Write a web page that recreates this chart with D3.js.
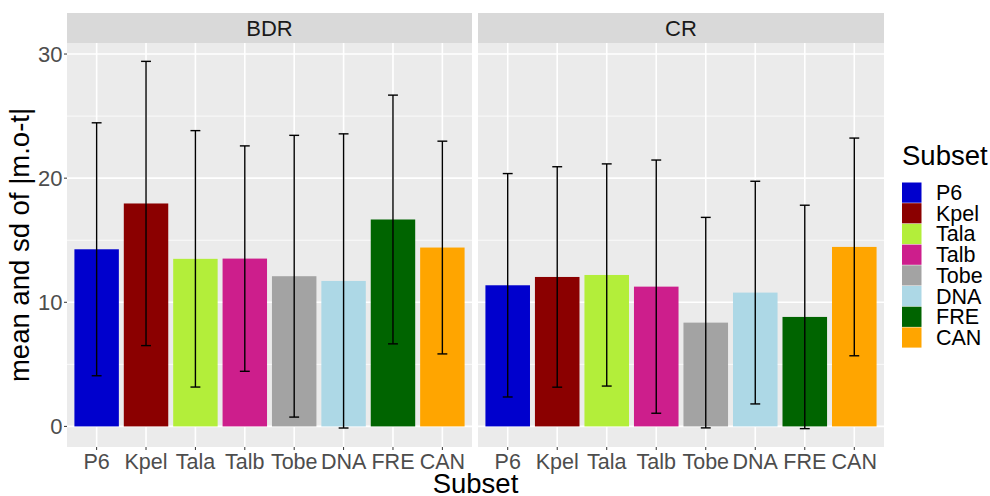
<!DOCTYPE html>
<html>
<head>
<meta charset="utf-8">
<script src="https://cdn.jsdelivr.net/npm/d3@7"></script>
<style>
  body { margin: 0; background: #fff; }
  text { font-family: "Liberation Sans", Arial, sans-serif; }
</style>
</head>
<body>
<svg id="chart" width="990" height="496"></svg>
<script>
// Data
const categories = ["P6", "Kpel", "Tala", "Talb", "Tobe", "DNA", "FRE", "CAN"];
const facets = ["BDR", "CR"];
const bdrMean = [14.27, 17.96, 13.5, 13.52, 12.1, 11.72, 16.67, 14.41];
const bdrSd = [10.19, 11.45, 10.33, 9.08, 11.35, 11.85, 10.02, 8.57];
const crMean = [11.37, 12.04, 12.2, 11.26, 8.36, 10.78, 8.82, 14.46];
const crSd = [9.0, 8.88, 8.95, 10.2, 8.48, 8.97, 9.0, 8.77];
const yTicks = [0, 10, 20, 30];
const yMinor = [5, 15, 25];
const colors = ["#0000CD", "#8B0000", "#B3EE3A", "#CD1E8C", "#A3A3A3", "#ADD8E6", "#006400", "#FFA500"];

const facetData = {
    BDR: categories.map((c, i) => ({cat: c, mean: bdrMean[i], sd: bdrSd[i]})),
    CR: categories.map((c, i) => ({cat: c, mean: crMean[i], sd: crSd[i]}))
};

const svg = d3.select("#chart");
const color = d3.scaleOrdinal().domain(categories).range(colors);

// Panel geometry
const panelTop = 43, panelBottom = 447, stripTop = 13;
const panels = [{name: "BDR", x0: 67, x1: 472}, {name: "CR", x0: 478, x1: 884}];

// y scale with ggplot-like 5% expansion
const all = facetData.BDR.concat(facetData.CR);
const lo = d3.min(all, d => d.mean - d.sd), hi = d3.max(all, d => d.mean + d.sd);
const pad = (hi - lo) * 0.05;
const y = d3.scaleLinear().domain([lo - pad, hi + pad]).range([panelBottom, panelTop]);

panels.forEach((p, pi) => {
    const x = d3.scaleBand().domain(categories).range([p.x0, p.x1])
                .paddingInner(0.1).paddingOuter(0.15);
    const cx = c => x(c) + x.bandwidth() / 2;
    const step = x.step();
    const g = svg.append("g");

    // strip
    g.append("rect").attr("x", p.x0).attr("y", stripTop)
     .attr("width", p.x1 - p.x0).attr("height", panelTop - stripTop)
     .attr("fill", "#d9d9d9");
    g.append("text").attr("x", (p.x0 + p.x1) / 2).attr("y", 36)
     .attr("text-anchor", "middle").attr("font-size", 22).attr("fill", "#1a1a1a")
     .text(facets[pi]);

    // panel background
    g.append("rect").attr("x", p.x0).attr("y", panelTop)
     .attr("width", p.x1 - p.x0).attr("height", panelBottom - panelTop)
     .attr("fill", "#ebebeb");

    // grid lines
    g.selectAll(".minor").data(yMinor).enter().append("line")
     .attr("x1", p.x0).attr("x2", p.x1)
     .attr("y1", d => y(d)).attr("y2", d => y(d))
     .attr("stroke", "#fff").attr("stroke-width", 0.8);
    g.selectAll(".major").data(yTicks).enter().append("line")
     .attr("x1", p.x0).attr("x2", p.x1)
     .attr("y1", d => y(d)).attr("y2", d => y(d))
     .attr("stroke", "#fff").attr("stroke-width", 1.6);
    g.selectAll(".vgrid").data(categories).enter().append("line")
     .attr("x1", d => cx(d)).attr("x2", d => cx(d))
     .attr("y1", panelTop).attr("y2", panelBottom)
     .attr("stroke", "#fff").attr("stroke-width", 1.6);

    const data = facetData[p.name];

    // bars
    g.selectAll(".bar").data(data).enter().append("rect")
     .attr("x", d => x(d.cat)).attr("width", x.bandwidth())
     .attr("y", d => y(d.mean)).attr("height", d => y(0) - y(d.mean))
     .attr("fill", d => color(d.cat));

    // error bars
    const eb = g.selectAll(".err").data(data).enter().append("g")
                .attr("stroke", "#000").attr("stroke-width", 1.4);
    eb.append("line").attr("x1", d => cx(d.cat)).attr("x2", d => cx(d.cat))
      .attr("y1", d => y(d.mean - d.sd)).attr("y2", d => y(d.mean + d.sd));
    eb.append("line").attr("x1", d => cx(d.cat) - step * 0.1).attr("x2", d => cx(d.cat) + step * 0.1)
      .attr("y1", d => y(d.mean + d.sd)).attr("y2", d => y(d.mean + d.sd));
    eb.append("line").attr("x1", d => cx(d.cat) - step * 0.1).attr("x2", d => cx(d.cat) + step * 0.1)
      .attr("y1", d => y(d.mean - d.sd)).attr("y2", d => y(d.mean - d.sd));

    // x ticks and labels
    g.selectAll(".xt").data(categories).enter().append("line")
     .attr("x1", d => cx(d)).attr("x2", d => cx(d))
     .attr("y1", panelBottom).attr("y2", panelBottom + 3)
     .attr("stroke", "#333").attr("stroke-width", 1);
    g.selectAll(".xl").data(categories).enter().append("text")
     .attr("x", d => cx(d)).attr("y", 468.5)
     .attr("text-anchor", "middle").attr("font-size", 21.5).attr("fill", "#4d4d4d")
     .text(d => d);

    // y axis only on first panel
    if (pi === 0) {
        g.selectAll(".yt").data(yTicks).enter().append("line")
         .attr("x1", p.x0 - 3).attr("x2", p.x0)
         .attr("y1", d => y(d)).attr("y2", d => y(d))
         .attr("stroke", "#333").attr("stroke-width", 1);
        g.selectAll(".yl").data(yTicks).enter().append("text")
         .attr("x", p.x0 - 4.5).attr("y", d => y(d) + 8)
         .attr("text-anchor", "end").attr("font-size", 22).attr("fill", "#4d4d4d")
         .text(d => d);
    }
});

// axis titles
svg.append("text")
   .attr("transform", `translate(28.5, ${(panelTop + panelBottom) / 2}) rotate(-90)`)
   .attr("text-anchor", "middle").attr("font-size", 27.5).attr("fill", "#000")
   .text("mean and sd of |m.o-t|");
svg.append("text")
   .attr("x", (67 + 884) / 2).attr("y", 493)
   .attr("text-anchor", "middle").attr("font-size", 27.5).attr("fill", "#000")
   .text("Subset");

// legend
const legend = svg.append("g").attr("transform", "translate(902, 0)");
legend.append("text").attr("x", 0).attr("y", 165)
      .attr("font-size", 27.5).attr("fill", "#000").text("Subset");
const keys = legend.selectAll(".key").data(categories).enter().append("g")
                   .attr("transform", (d, i) => `translate(0, ${182.5 + i * 20.7})`);
keys.append("rect").attr("width", 19.5).attr("height", 20.2)
    .attr("fill", d => color(d));
keys.append("text").attr("x", 34).attr("y", 17.5)
    .attr("font-size", 21.5).attr("fill", "#000").text(d => d);
</script>
</body>
</html>
